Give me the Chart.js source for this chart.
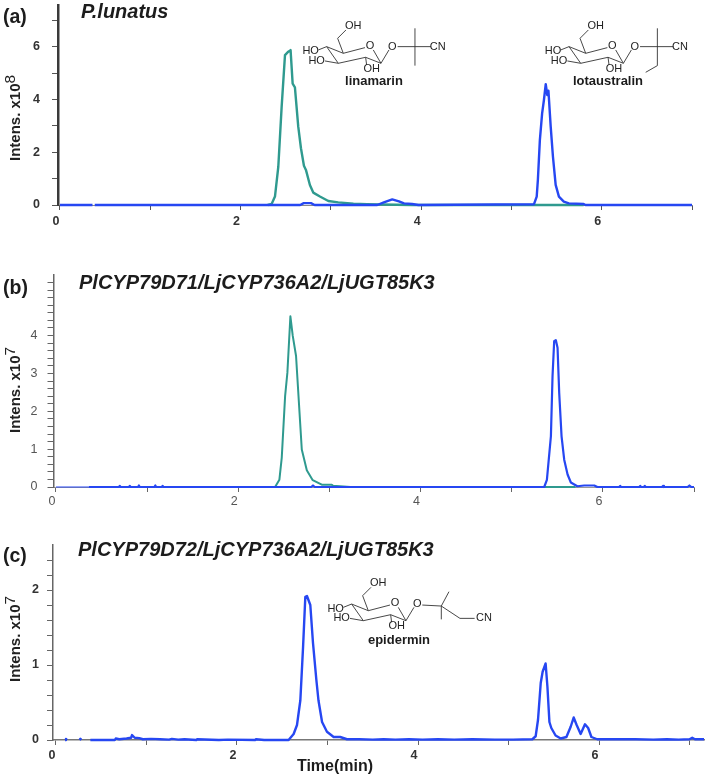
<!DOCTYPE html>
<html>
<head>
<meta charset="utf-8">
<script src="https://cdn.jsdelivr.net/npm/chart.js@4"></script>
<style>
  body { margin: 0; background: #fff; }
  canvas { position: absolute; left: 0; }
</style>
</head>
<body>
<canvas id="panelA" style="top:0"></canvas>
<canvas id="panelB" style="top:255px"></canvas>
<canvas id="panelC" style="top:525px"></canvas>
<script>
// x ticks are shared, labels only on the even minutes
var xTicks = [0, 1, 2, 3, 4, 5, 6, 7];
var xLabels = [0, 2, 4, 6];

// (a) P.lunatus
var yTicksA = [0, 1, 2, 3, 4, 5, 6, 7];
var yLabelsA = [0, 2, 4, 6];
var linamarinTimeA = [2.30, 2.344, 2.381, 2.418, 2.455, 2.492, 2.529, 2.554, 2.577, 2.602, 2.639, 2.669, 2.702, 2.724, 2.768, 2.805, 2.879, 2.972, 3.082, 3.25, 3.40, 3.55, 3.90, 5.30, 5.80];
var linamarinA = [0, 0.04, 0.32, 1.45, 3.72, 5.68, 5.81, 5.87, 4.60, 4.46, 2.97, 2.15, 1.49, 1.33, 0.76, 0.47, 0.32, 0.15, 0.10, 0.05, 0.03, 0.02, 0, 0, 0];
var lotaustralinTimeA = [0, 0.36, 0.37, 0.385, 2.66, 2.70, 2.78, 2.82, 3.514, 3.587, 3.68, 3.754, 3.81, 3.90, 3.97, 5.25, 5.28, 5.293, 5.315, 5.34, 5.36, 5.38, 5.397, 5.41, 5.435, 5.46, 5.49, 5.526, 5.58, 5.636, 5.80, 5.82, 7.0];
var lotaustralinA = [0, 0, null, 0, 0, 0.07, 0.07, 0, 0, 0.10, 0.21, 0.14, 0.06, 0.04, 0, 0.03, 0.32, 0.95, 2.46, 3.47, 3.98, 4.58, 4.17, 4.33, 2.97, 1.83, 0.76, 0.32, 0.13, 0.06, 0.04, 0, 0];

// (b) PlCYP79D71
var yTicksB = [0, 0.2, 0.4, 0.6, 0.8, 1, 1.2, 1.4, 1.6, 1.8, 2, 2.2, 2.4, 2.6, 2.8, 3, 3.2, 3.4, 3.6, 3.8, 4, 4.2, 4.4, 4.6, 4.8, 5, 5.2, 5.4];
var yLabelsB = [0, 1, 2, 3, 4];
var linamarinTimeB = [2.35, 2.404, 2.451, 2.477, 2.514, 2.539, 2.572, 2.598, 2.634, 2.697, 2.752, 2.817, 2.916, 3.026, 3.04, 3.23, 5.70];
var linamarinB = [0, 0, 0.19, 0.77, 2.40, 3.02, 4.51, 3.99, 3.46, 0.99, 0.44, 0.18, 0.06, 0.06, 0.03, 0, 0];
var lotaustralinTimeB = [0, 0.36, 0.37, 0.69, 0.70, 0.71, 0.80, 0.81, 0.82, 0.90, 0.91, 0.92, 1.08, 1.09, 1.10, 1.16, 1.17, 1.18, 2.80, 2.82, 2.84, 5.357, 5.386, 5.43, 5.448, 5.466, 5.484, 5.503, 5.521, 5.547, 5.576, 5.613, 5.649, 5.72, 5.796, 5.906, 5.94, 6.18, 6.19, 6.20, 6.40, 6.41, 6.42, 6.45, 6.46, 6.47, 6.65, 6.66, 6.67, 6.93, 6.95, 6.97, 7.0];
var lotaustralinB = [0, 0, 0, 0, 0.03, 0, 0, 0.03, 0, 0, 0.04, 0, 0, 0.04, 0, 0, 0.03, 0, 0, 0.04, 0, 0, 0.19, 1.34, 2.93, 3.85, 3.88, 3.68, 2.49, 1.34, 0.72, 0.33, 0.12, 0.02, 0.04, 0.04, 0, 0, 0.03, 0, 0, 0.03, 0, 0, 0.03, 0, 0, 0.03, 0, 0, 0.04, 0, 0];

// (c) PlCYP79D72
var yTicksC = [0, 0.2, 0.4, 0.6, 0.8, 1, 1.2, 1.4, 1.6, 1.8, 2, 2.2, 2.4];
var yLabelsC = [0, 1, 2];
var epiderminTimeC = [0.10, 0.11, 0.12, null, 0.26, 0.27, 0.28, null, 0.38, 0.65, 0.66, 0.70, 0.78, 0.83, 0.84, 0.87, 0.92, 0.96, 1.05, 1.15, 1.25, 1.28, 1.35, 1.42, 1.55, 1.56, 1.80, 1.90, 2.20, 2.21, 2.30, 2.57, 2.626, 2.663, 2.70, 2.73, 2.755, 2.773, 2.81, 2.84, 2.877, 2.90, 2.94, 2.994, 3.068, 3.14, 3.215, 3.35, 3.50, 3.62, 3.75, 3.90, 4.05, 4.22, 4.40, 4.60, 4.85, 5.05, 5.264, 5.30, 5.326, 5.356, 5.377, 5.41, 5.43, 5.452, 5.473, 5.52, 5.577, 5.64, 5.688, 5.72, 5.753, 5.797, 5.845, 5.88, 5.916, 5.98, 6.15, 6.40, 6.60, 6.75, 6.88, 7.0, 7.03, 7.06, 7.16];
var epiderminC = [0, 0.015, 0, null, 0, 0.015, 0, null, 0, 0, 0.02, 0.01, 0.02, 0.03, 0.066, 0.03, 0.025, 0.01, 0.015, 0.01, 0.005, 0.015, 0.005, 0.01, 0, 0.01, 0, 0.005, 0, 0.01, 0, 0, 0.08, 0.20, 0.53, 1.24, 1.91, 1.92, 1.80, 1.29, 0.80, 0.53, 0.24, 0.11, 0.04, 0.04, 0.01, 0.01, 0.005, 0.01, 0.005, 0.01, 0.005, 0.01, 0.005, 0.01, 0.005, 0.005, 0.01, 0.05, 0.27, 0.76, 0.91, 1.02, 0.71, 0.24, 0.16, 0.06, 0.02, 0.04, 0.18, 0.30, 0.20, 0.08, 0.21, 0.16, 0.04, 0.01, 0.01, 0.01, 0.005, 0.01, 0.005, 0.01, 0.03, 0.01, 0.01];

var teal = '#2f9a8f';
var blue = '#2647f2';

function toPoints(xs, ys) {
    return xs.map(function (x, i) { return { x: x === null ? xs[i - 1] : x, y: ys[i] }; });
}

function lineSet(xs, ys, color, width, thinUntil) {
    return {
        data: toPoints(xs, ys),
        borderColor: color,
        borderWidth: width,
        borderJoinStyle: 'round',
        pointRadius: 0,
        tension: 0,
        clip: false,
        spanGaps: false,
        segment: {
            borderWidth: function (ctx) { return ctx.p0.parsed.x < (thinUntil || 0) ? 1 : width; }
        }
    };
}

// sugar ring of the glucosides, offsets are in 1/3 px from the ring carbon at (x, y)
function drawGlucose(c, x, y) {
    var lines = [
        [[0, 0], [-17, -45], [8, -70]],
        [[0, 0], [65, -17]],
        [[90, -10], [113, 30], [67, 12], [-15, 30], [-50, -20], [0, 0]],
        [[-75, -10], [-50, -20]],
        [[-55, 23], [-15, 30]],
        [[67, 12], [70, 35]],
        [[113, 30], [137, -10]]
    ];
    strokeLines(c, x, y, lines);
    c.font = '11px "Liberation Sans"';
    c.textAlign = 'center';
    c.textBaseline = 'middle';
    c.fillStyle = '#222';
    var labels = [['OH', 30, -82], ['O', 80, -23], ['HO', -98, -6], ['HO', -80, 23], ['OH', 85, 47], ['O', 147, -20]];
    labels.forEach(function (l) { c.fillText(l[0], x + l[1] / 3, y + l[2] / 3); });
}

function strokeLines(c, x, y, lines) {
    c.strokeStyle = '#333';
    c.lineWidth = 0.9;
    lines.forEach(function (path) {
        c.beginPath();
        path.forEach(function (p, i) {
            if (i === 0) c.moveTo(x + p[0] / 3, y + p[1] / 3);
            else c.lineTo(x + p[0] / 3, y + p[1] / 3);
        });
        c.stroke();
    });
}

function drawTail(c, x, y, kind) {
    var lines;
    var cnX = 283, cnY = -20;
    if (kind === 'linamarin') {
        lines = [[[163, -20], [263, -20]], [[215, -75], [215, 37]]];
    } else if (kind === 'lotaustralin') {
        lines = [[[163, -20], [263, -20]], [[215, -75], [215, 37], [180, 57]]];
    } else {
        lines = [[[162, -17], [219, -14]], [[219, -14], [242, -57]], [[219, -14], [219, 26]], [[219, -14], [275, 23], [319, 23]]];
        cnX = 347; cnY = 23;
    }
    strokeLines(c, x, y, lines);
    c.fillText('CN', x + cnX / 3, y + cnY / 3);
}

function drawName(c, name, x, y) {
    c.font = 'bold 13px "Liberation Sans"';
    c.fillStyle = '#1c1c1c';
    c.textAlign = 'center';
    c.fillText(name, x, y);
}

// panel letter, strain name, y axis title and the drawn compounds
var panelText = {
    id: 'panelText',
    afterDraw: function (chart, args, opts) {
        var c = chart.ctx;
        c.save();
        c.fillStyle = '#1c1c1c';
        c.textBaseline = 'middle';
        c.textAlign = 'left';
        c.font = 'bold 19.5px "Liberation Sans"';
        c.fillText(opts.letter, 3, opts.letterY);
        c.font = 'italic bold ' + opts.titleSize + 'px "Liberation Sans"';
        c.fillText(opts.title, opts.titleX, opts.titleY);

        c.save();
        c.translate(16, opts.labelY);
        c.rotate(-Math.PI / 2);
        c.font = 'bold 15px "Liberation Sans"';
        c.fillStyle = '#222';
        c.textAlign = 'left';
        c.fillText('Intens. x10', 0, 0);
        var w = c.measureText('Intens. x10').width;
        c.font = '15.5px "Liberation Sans"';
        c.fillText(opts.power, w, -5);
        c.restore();

        if (opts.draw) opts.draw(c);
        c.restore();
    }
};

function makeChart(id, p) {
    var canvas = document.getElementById(id);
    canvas.width = 709;
    canvas.height = p.height;
    return new Chart(canvas.getContext('2d'), {
        type: 'line',
        data: { datasets: p.datasets },
        plugins: [panelText],
        options: {
            responsive: false,
            animation: false,
            layout: { padding: { left: 0, top: p.top, right: 709 - p.right, bottom: 0 } },
            scales: {
                x: {
                    type: 'linear',
                    min: p.xMin,
                    max: p.xMax,
                    afterBuildTicks: function (s) { s.ticks = xTicks.map(function (v) { return { value: v }; }); },
                    afterFit: function (s) {
                        s.height = p.height - p.bottom;
                        s.paddingLeft = 0;
                        s.paddingRight = 0;
                    },
                    grid: { drawOnChartArea: false, tickLength: 5, tickColor: p.tickColor },
                    border: { color: p.xAxisColor, width: p.xAxisWidth },
                    ticks: {
                        autoSkip: false,
                        maxRotation: 0,
                        labelOffset: -4,
                        padding: p.xPad,
                        color: p.labelColor,
                        font: { family: 'Liberation Sans', size: 12.5, weight: p.labelWeight },
                        callback: function (v) { return xLabels.indexOf(v) >= 0 ? v : ''; }
                    }
                },
                y: {
                    min: 0,
                    max: p.yMax,
                    afterBuildTicks: function (s) { s.ticks = p.yTicks.map(function (v) { return { value: v }; }); },
                    afterFit: function (s) {
                        s.width = p.left;
                        s.paddingTop = 0;
                        s.paddingBottom = 0;
                    },
                    grid: { drawOnChartArea: false, tickLength: 6, tickColor: p.tickColor },
                    border: { color: p.yAxisColor, width: p.yAxisWidth },
                    ticks: {
                        autoSkip: false,
                        padding: p.yPad,
                        color: p.labelColor,
                        font: { family: 'Liberation Sans', size: 12.5, weight: p.labelWeight },
                        callback: function (v) { return p.yLabels.indexOf(v) >= 0 ? v : ''; }
                    }
                }
            },
            plugins: {
                legend: { display: false },
                tooltip: { enabled: false },
                panelText: {
                    letter: p.letter, letterY: p.letterY,
                    title: p.title, titleX: p.titleX, titleY: p.titleY, titleSize: p.titleSize,
                    labelY: p.labelY, power: p.power, draw: p.draw
                }
            }
        }
    });
}

var panelA = makeChart('panelA', {
    height: 250, top: 5, bottom: 205, left: 58, right: 692,
    xMin: -0.022, xMax: 7, yMax: 7.58,
    yTicks: yTicksA, yLabels: yLabelsA, yPad: 12, xPad: 4,
    tickColor: '#555', labelColor: '#333', labelWeight: 'bold',
    xAxisColor: '#888', xAxisWidth: 1, yAxisColor: '#3a3a3a', yAxisWidth: 2.5,
    letter: '(a)', letterY: 18, title: 'P.lunatus', titleX: 81, titleY: 12, titleSize: 20,
    labelY: 161, power: '8',
    datasets: [
        lineSet(lotaustralinTimeA, lotaustralinA, blue, 2.4),
        lineSet(linamarinTimeA, linamarinA, teal, 2.4)
    ],
    draw: function (c) {
        drawGlucose(c, 343.3, 53.3);
        drawTail(c, 343.3, 53.3, 'linamarin');
        drawName(c, 'linamarin', 374, 81.5);
        drawGlucose(c, 585.7, 53.3);
        drawTail(c, 585.7, 53.3, 'lotaustralin');
        drawName(c, 'lotaustralin', 608, 81.5);
    }
});

var panelB = makeChart('panelB', {
    height: 265, top: 20, bottom: 232, left: 53.5, right: 694,
    xMin: -0.027, xMax: 7, yMax: 5.6,
    yTicks: yTicksB, yLabels: yLabelsB, yPad: 10, xPad: 2,
    tickColor: '#666', labelColor: '#555', labelWeight: 'normal',
    xAxisColor: '#999', xAxisWidth: 1, yAxisColor: '#666', yAxisWidth: 1.5,
    letter: '(b)', letterY: 34, title: 'PlCYP79D71/LjCYP736A2/LjUGT85K3', titleX: 79, titleY: 28, titleSize: 20,
    labelY: 178, power: '7',
    datasets: [
        lineSet(lotaustralinTimeB, lotaustralinB, blue, 2.2, 0.36),
        lineSet(linamarinTimeB, linamarinB, teal, 2)
    ]
});

var panelC = makeChart('panelC', {
    height: 253, top: 20, bottom: 215, left: 53, right: 704,
    xMin: -0.033, xMax: 7.16, yMax: 2.6,
    yTicks: yTicksC, yLabels: yLabelsC, yPad: 8, xPad: 3,
    tickColor: '#666', labelColor: '#333', labelWeight: 'bold',
    xAxisColor: '#777', xAxisWidth: 1.5, yAxisColor: '#666', yAxisWidth: 1.5,
    letter: '(c)', letterY: 32, title: 'PlCYP79D72/LjCYP736A2/LjUGT85K3', titleX: 78, titleY: 25, titleSize: 20,
    labelY: 157, power: '7',
    datasets: [
        lineSet(epiderminTimeC, epiderminC, blue, 2.4)
    ],
    draw: function (c) {
        drawGlucose(c, 368.3, 85.7);
        drawTail(c, 368.3, 85.7, 'epidermin');
        drawName(c, 'epidermin', 399, 115);
        c.font = 'bold 16px "Liberation Sans"';
        c.fillStyle = '#1c1c1c';
        c.fillText('Time(min)', 335, 242);
    }
});
</script>
</body>
</html>
